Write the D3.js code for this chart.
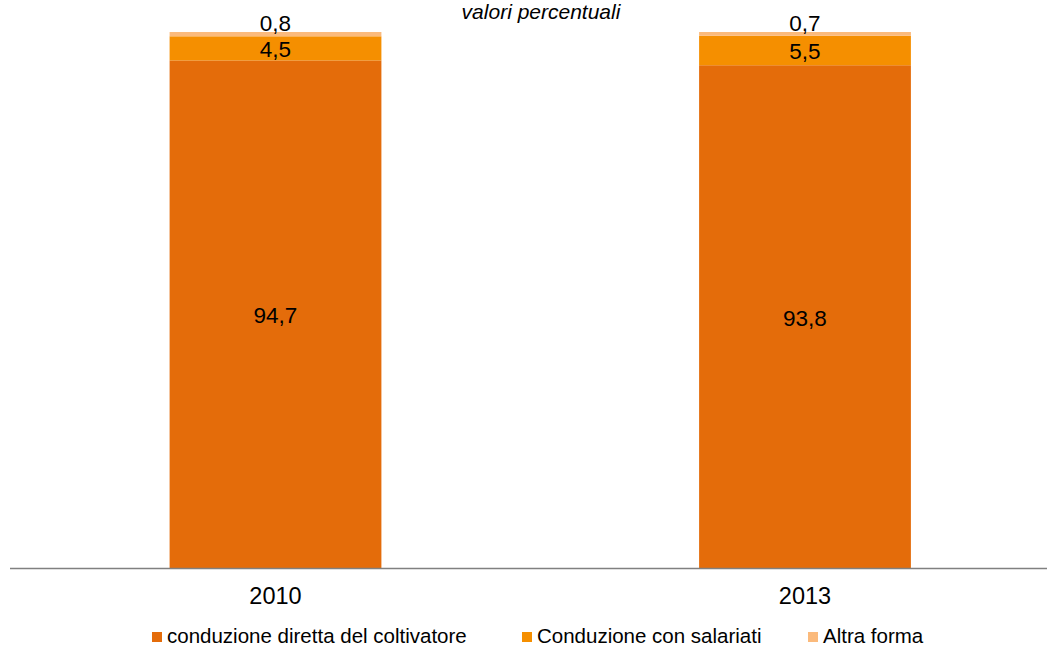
<!DOCTYPE html>
<html>
<head>
<meta charset="utf-8">
<script src="https://cdn.jsdelivr.net/npm/d3@7"></script>
<style>
  body { margin: 0; background: #fff; }
  text { font-family: "Liberation Sans", Arial, sans-serif; }
</style>
</head>
<body>
<div id="chart"></div>
<script>
var years = ["2010", "2013"];
var seriesNames = ["conduzione diretta del coltivatore", "Conduzione con salariati", "Altra forma"];
var diretta = [94.7, 93.8];
var salariati = [4.5, 5.5];
var altra = [0.8, 0.7];
var colors = ["#E46C0A", "#F58F00", "#FBBA7C"];

var width = 1047, height = 646;
var margin = {top: 32, bottom: 78};
var axisY = 568;

var svg = d3.select("#chart")
  .append("svg")
    .attr("width", width)
    .attr("height", height);

var data = years.map(function(y, i) {
  return {year: y, diretta: diretta[i], salariati: salariati[i], altra: altra[i]};
});
var keys = ["diretta", "salariati", "altra"];
var stacked = d3.stack().keys(keys)(data);

var x = d3.scaleBand()
  .domain(years)
  .range([10.75, 1069.75])
  .paddingInner(0.6)
  .paddingOuter(0.3);

var y = d3.scaleLinear()
  .domain([0, 100])
  .range([axisY, margin.top]);

// title
svg.append("text")
  .attr("x", 541)
  .attr("y", 19)
  .attr("text-anchor", "middle")
  .style("font-size", "21px")
  .style("font-style", "italic")
  .text("valori percentuali");

// bars
var groups = svg.selectAll(".serie")
  .data(stacked)
  .enter()
  .append("g")
    .attr("class", "serie")
    .attr("fill", function(d, i) { return colors[i]; });

groups.selectAll("rect")
  .data(function(d) { return d; })
  .enter()
  .append("rect")
    .attr("x", function(d) { return x(d.data.year); })
    .attr("width", x.bandwidth())
    .attr("y", function(d) { return y(d[1]); })
    .attr("height", function(d) { return y(d[0]) - y(d[1]); });

// labels
groups.each(function(s, si) {
  d3.select(this.parentNode).selectAll(".lab" + si)
    .data(s)
    .enter()
    .append("text")
      .attr("class", "lab" + si)
      .attr("x", function(d) { return x(d.data.year) + x.bandwidth() / 2; })
      .attr("y", function(d) {
        var c = (y(d[0]) + y(d[1])) / 2;
        if (si == 2) return c - 3;
        return c + 9;
      })
      .attr("text-anchor", "middle")
      .style("font-size", "22.5px")
      .attr("fill", "#000")
      .text(function(d) { return d3.format(".1f")(d[1] - d[0]).replace(".", ","); });
});

// x axis
svg.append("line")
  .attr("x1", 10).attr("x2", width)
  .attr("y1", axisY + 0.5).attr("y2", axisY + 0.5)
  .attr("stroke", "#808080")
  .attr("stroke-width", 1.5);

svg.selectAll(".year")
  .data(years)
  .enter()
  .append("text")
    .attr("class", "year")
    .attr("x", function(d) { return x(d) + x.bandwidth() / 2; })
    .attr("y", 604)
    .attr("text-anchor", "middle")
    .style("font-size", "23.5px")
    .text(function(d) { return d; });

// legend
var legX = [152, 522, 808];
var leg = svg.selectAll(".leg")
  .data(seriesNames)
  .enter()
  .append("g")
    .attr("class", "leg")
    .attr("transform", function(d, i) { return "translate(" + legX[i] + ",637)"; });
leg.append("rect")
  .attr("x", 0).attr("y", -5)
  .attr("width", 10).attr("height", 10)
  .attr("fill", function(d, i) { return colors[i]; });
leg.append("text")
  .attr("x", 15)
  .attr("y", 6)
  .style("font-size", "20.5px")
  .text(function(d) { return d; });
</script>
</body>
</html>
